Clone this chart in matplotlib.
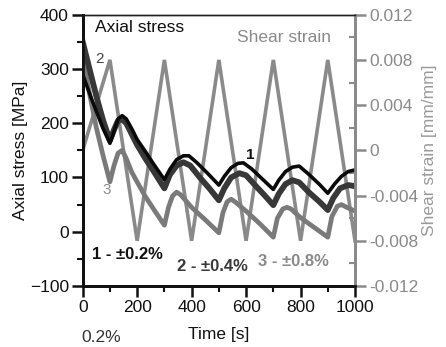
import matplotlib
matplotlib.use("Agg")
import matplotlib.pyplot as plt
from matplotlib.ticker import MultipleLocator

plt.rcParams['font.family'] = ['Liberation Sans', 'DejaVu Sans']

# axial stress curves (time [s], stress [MPa])
t1 = [0, 25, 50, 75, 100, 115, 130, 145, 160, 180, 200, 230, 260, 300, 320, 345, 370, 390,
      420, 460, 500, 520, 545, 570, 590, 620, 660, 700, 720, 745, 770, 795, 830, 870, 900,
      925, 950, 975, 1000]
s1 = [290, 255, 222, 190, 163, 185, 208, 214, 208, 190, 170, 148, 125, 96, 115, 133, 140, 140,
      127, 107, 86, 102, 118, 126, 127, 116, 97, 78, 95, 111, 119, 121, 106, 87, 71,
      88, 102, 111, 114]

t2 = [0, 25, 50, 75, 100, 115, 130, 145, 160, 180, 200, 230, 260, 300, 320, 345, 370, 395,
      430, 465, 500, 520, 545, 575, 600, 640, 670, 700, 720, 745, 770, 795, 830, 870, 900,
      920, 945, 975, 1000]
s2 = [350, 300, 250, 205, 168, 188, 205, 207, 200, 180, 160, 135, 112, 80, 105, 122, 128, 122,
      100, 80, 58, 80, 100, 108, 104, 82, 66, 49, 70, 88, 95, 91, 73, 55, 40,
      62, 80, 86, 84]

t3 = [0, 25, 50, 75, 100, 115, 130, 145, 160, 180, 203, 230, 260, 300, 315, 330, 345, 360,
      400, 450, 500, 515, 530, 545, 560, 600, 650, 700, 715, 735, 750, 765, 800, 850, 900,
      915, 935, 950, 970, 1000]
s3 = [320, 255, 192, 140, 92, 122, 145, 150, 135, 110, 89, 65, 42, 12, 45, 66, 73, 68,
      45, 22, -2, 35, 55, 60, 55, 38, 15, -10, 25, 42, 45, 42, 26, 8, -10,
      28, 47, 50, 45, 38]

# shear strain (triangle history, +/-0.8 %)
t_shear = [0, 100, 200, 300, 400, 500, 600, 700, 800, 900, 1000]
shear = [0.0, 0.008, -0.008, 0.008, -0.008, 0.008, -0.008, 0.008, -0.008, 0.008, -0.008]

fig = plt.figure(figsize=(4.46, 3.47), dpi=100, facecolor='white')
ax = fig.add_axes([0.1854, 0.1758, 0.6106, 0.7818])
ax2 = ax.twinx()

# stress axis drawn above the strain axis so the curves sit over the triangle wave
ax.set_zorder(ax2.get_zorder() + 1)
ax.patch.set_visible(False)
ax2.patch.set_facecolor('#efefef')

ax2.plot(t_shear, shear, color='#8a8a8a', lw=2.6, solid_joinstyle='miter')
ax.plot(t3, s3, color='#7a7a7a', lw=3.4)
ax.plot(t2, s2, color='#383838', lw=4.2)
ax.plot(t1, s1, color='#0a0a0a', lw=2.6)

ax.set_xlim(0, 1000)
ax.set_ylim(-100, 400)
ax2.set_ylim(-0.012, 0.012)

ax.xaxis.set_major_locator(MultipleLocator(200))
ax.xaxis.set_minor_locator(MultipleLocator(100))
ax.yaxis.set_major_locator(MultipleLocator(100))
ax.yaxis.set_minor_locator(MultipleLocator(50))
ax2.yaxis.set_minor_locator(MultipleLocator(0.002))
ax2.set_yticks([0.012, 0.008, 0.004, 0, -0.004, -0.008, -0.012])
ax2.set_yticklabels(['0.012', '0.008', '0.004', '0', '-0.004', '-0.008', '-0.012'])

ax.tick_params(axis='both', which='major', direction='out', length=8, width=1.8,
               labelsize=12.5, colors='#111111', pad=2)
ax.tick_params(axis='both', which='minor', direction='out', length=4, width=1.5, colors='#111111')
ax2.tick_params(axis='y', which='major', direction='out', length=8, width=1.8,
                labelsize=12.5, colors='#8a8a8a', pad=2)
ax2.tick_params(axis='y', which='minor', direction='in', length=4, width=1.5, colors='#8a8a8a')

for a in (ax, ax2):
    a.spines['left'].set_linewidth(2.0)
    a.spines['left'].set_color('#111111')
    a.spines['bottom'].set_linewidth(2.0)
    a.spines['bottom'].set_color('#111111')
    a.spines['top'].set_linewidth(1.0)
    a.spines['top'].set_color('#222222')
    a.spines['right'].set_linewidth(2.0)
    a.spines['right'].set_color('#8a8a8a')

ax.set_xlabel('Time [s]', fontsize=12.5, color='#111111')
ax.xaxis.set_label_coords(0.5, -0.15)
ax.set_ylabel('Axial stress [MPa]', fontsize=12.5, color='#111111', labelpad=1)
ax2.set_ylabel('Shear strain [mm/mm]', fontsize=12.5, color='#9a9a9a', labelpad=3)

# labels inside the plot
ax.text(45, 377, 'Axial stress', fontsize=12.5, color='#111111', va='center')
ax.text(565, 358, 'Shear strain', fontsize=12.5, color='#8a8a8a', va='center')
ax.text(45, 318, '2', fontsize=11, color='#444444', va='center')
ax.text(72, 77, '3', fontsize=11, color='#8a8a8a', va='center')
ax.text(598, 142, '1', fontsize=11, color='#111111', fontweight='bold', va='center')
ax.text(33, -42, '1 - \u00b10.2%', fontsize=12, color='#111111', fontweight='bold', va='center')
ax.text(345, -64, '2 - \u00b10.4%', fontsize=12, color='#3a3a3a', fontweight='bold', va='center')
ax.text(645, -55, '3 - \u00b10.8%', fontsize=12, color='#8a8a8a', fontweight='bold', va='center')

fig.text(0.183, 0.028, '0.2%', fontsize=12.5, color='#333333', va='center')

fig.savefig('out.png', dpi=100, facecolor=fig.get_facecolor())
